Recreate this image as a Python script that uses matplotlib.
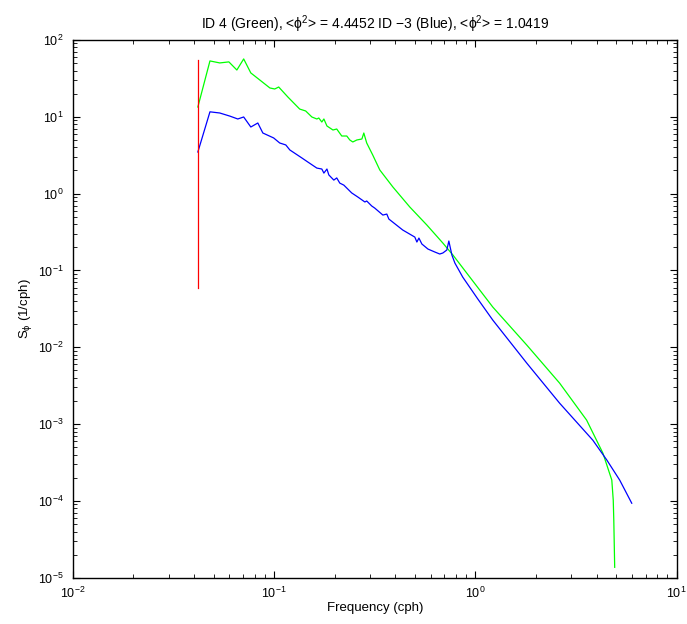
import matplotlib
matplotlib.use("Agg")
import matplotlib.pyplot as plt
import numpy as np

plt.rcParams['font.family'] = ['Liberation Sans', 'DejaVu Sans']
plt.rcParams['mathtext.fontset'] = 'custom'
plt.rcParams['mathtext.rm'] = 'Liberation Sans'
plt.rcParams['mathtext.it'] = 'Liberation Sans:italic'
plt.rcParams['mathtext.default'] = 'regular'

# Green series (ID 4)
green_f = [0.0418, 0.048, 0.0537, 0.0596, 0.0653, 0.0706, 0.0766, 0.0849, 0.0953, 0.1007,
           0.1054, 0.117, 0.134, 0.1435, 0.154, 0.163, 0.1667, 0.1726, 0.1767, 0.183,
           0.196, 0.2047, 0.2168, 0.2296, 0.2377, 0.246, 0.2576, 0.273, 0.279, 0.2884,
           0.309, 0.335, 0.389, 0.472, 0.574, 0.689, 0.773, 0.938, 1.22, 1.80,
           2.62, 3.57, 4.30, 4.76, 4.84, 4.87, 4.92]
green_s = [13.4, 53.3, 50.2, 51.8, 40.6, 56.6, 37.2, 30.1, 23.7, 23.0,
           24.4, 18.1, 12.6, 11.9, 9.94, 9.36, 9.64, 8.55, 9.36, 7.59,
           6.73, 6.93, 5.62, 5.62, 4.99, 4.70, 4.99, 5.14, 6.15, 4.56,
           3.18, 2.03, 1.22, 0.670, 0.390, 0.2275, 0.159, 0.082, 0.0334, 0.01069,
           0.00342, 0.001127, 0.000419, 0.000187, 1.02e-4, 5.62e-5, 1.37e-5]

# Blue series (ID -3)
blue_f = [0.0418, 0.048, 0.0537, 0.0603, 0.066, 0.0706, 0.0766, 0.083, 0.0879, 0.0995,
          0.1066, 0.1143, 0.1197, 0.1374, 0.147, 0.163, 0.1726, 0.1767, 0.183, 0.187,
          0.198, 0.2047, 0.212, 0.222, 0.243, 0.2606, 0.2825, 0.2884, 0.3055, 0.316,
          0.347, 0.363, 0.3715, 0.4355, 0.500, 0.512, 0.524, 0.542, 0.581, 0.628,
          0.665, 0.689, 0.721, 0.738, 0.764, 0.791, 0.865, 1.028, 1.22, 1.80,
          2.62, 3.83, 4.50, 5.21, 5.98]
blue_s = [3.48, 11.6, 11.2, 10.2, 9.36, 9.94, 7.36, 8.30, 6.15, 5.30,
          4.56, 4.30, 3.70, 2.91, 2.58, 2.15, 2.09, 1.85, 2.09, 1.75,
          1.50, 1.60, 1.37, 1.29, 1.02, 0.903, 0.778, 0.802, 0.690, 0.649,
          0.526, 0.542, 0.467, 0.336, 0.272, 0.2344, 0.264, 0.221, 0.190, 0.174,
          0.1637, 0.1687, 0.1845, 0.2415, 0.159, 0.1247, 0.082, 0.0425, 0.0226, 0.00622,
          0.001875, 0.000619, 0.00034, 0.000187, 9.35e-5]

# Red vertical marker line
red_f = [0.0418, 0.0418]
red_s = [55.0, 0.059]

title = r"ID 4 (Green), <$\phi^2$> = 4.4452 ID $-$3 (Blue), <$\phi^2$> = 1.0419"
xlabel = "Frequency (cph)"
ylabel = r"S$_\phi$ (1/cph)"

fig = plt.figure(figsize=(6.87, 6.24), dpi=100)
ax = fig.add_axes([0.106, 0.074, 0.879, 0.862])

ax.loglog(green_f, green_s, color=(0, 1, 0), lw=0.9)
ax.loglog(blue_f, blue_s, color=(0, 0, 1), lw=0.9)
ax.loglog(red_f, red_s, color=(1, 0, 0), lw=0.9)

ax.set_xlim(1e-2, 1e1)
ax.set_ylim(1e-5, 1e2)
ax.set_title(title, fontsize=10, pad=8)
ax.set_xlabel(xlabel, fontsize=9.5, labelpad=1)
ax.set_ylabel(ylabel, fontsize=9.5)
ax.yaxis.set_label_coords(-0.064, 0.5)

ax.tick_params(which='both', direction='in', top=True, right=True, labelsize=9)
ax.tick_params(which='major', length=5, width=0.8)
ax.tick_params(which='minor', length=3, width=0.6)
ax.tick_params(axis='x', which='major', pad=5.5)
ax.tick_params(axis='y', which='major', pad=6.5)
for sp in ax.spines.values():
    sp.set_linewidth(1.0)

fig.savefig("out.png", dpi=100)
